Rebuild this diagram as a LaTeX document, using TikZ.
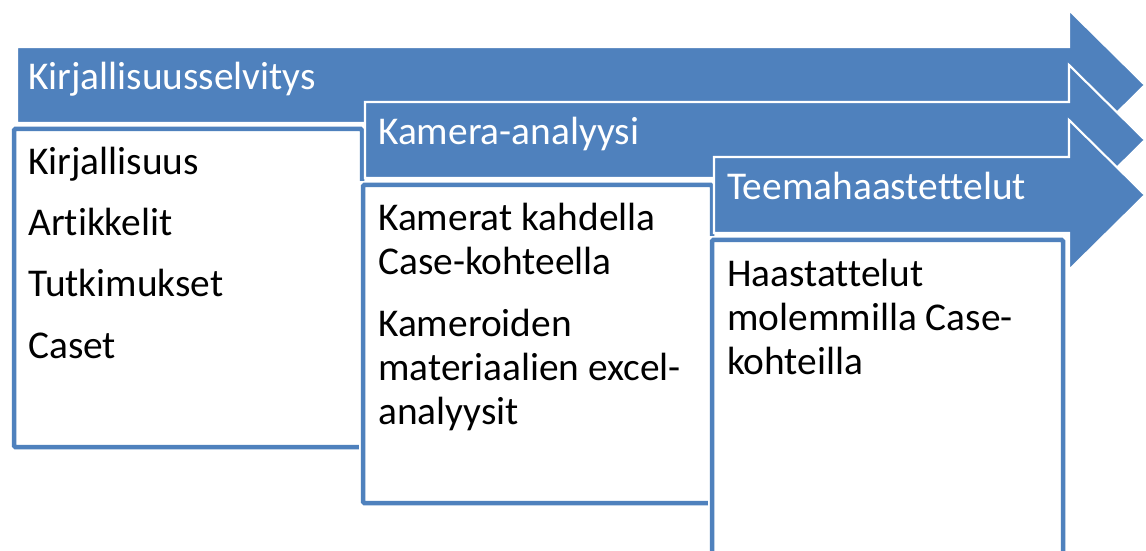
\documentclass[tikz,border=0pt]{standalone}
\usepackage{fontspec}
\setmainfont{Carlito}[Ligatures={NoCommon}]
\definecolor{accblue}{HTML}{4F81BD}
\begin{document}
\begin{tikzpicture}[x=0.025cm,y=-0.025cm,
  arrowshape/.style={fill=accblue,draw=white,line width=1.5pt,line join=miter},
  boxhalo/.style={draw=white,line width=5.5pt},
  boxshape/.style={fill=white,draw=accblue,line width=3.2pt,rounded corners=1pt},
  headtext/.style={anchor=base west,inner sep=0pt,text=white,font=\fontsize{28}{31}\selectfont},
  bodytext/.style={anchor=base west,inner sep=0pt,text=black,font=\fontsize{28}{31}\selectfont}]
\useasboundingbox (0,0) rectangle (1146,551);
\clip (0,0) rectangle (1146,551);
% arrow 1 and box 1
\draw[arrowshape] (17,47) -- (1069,47) -- (1069,10) -- (1145,85) -- (1069,160) -- (1069,123) -- (17,123) -- cycle;
\draw[boxhalo] (14,129) rectangle (362,447);
\draw[boxshape] (14,129) rectangle (362,447);
\node[headtext] (h1) at (28,90) {Kirjallisuusselvitys};
\node[bodytext] (a1) at (28,175) {Kirjallisuus};
\node[bodytext] (a2) at (28,236) {Artikkelit};
\node[bodytext] (a3) at (28,297) {Tutkimukset};
\node[bodytext] (a4) at (28,358) {Caset};
% arrow 2 and box 2
\draw[arrowshape] (365,102) -- (1069,102) -- (1069,65) -- (1145,140) -- (1069,215) -- (1069,178) -- (365,178) -- cycle;
\draw[boxhalo] (363,185) rectangle (712,503);
\draw[boxshape] (363,185) rectangle (712,503);
\node[headtext] (h2) at (378,145) {Kamera-analyysi};
\node[bodytext] (b1) at (378,231) {Kamerat kahdella};
\node[bodytext] (b2) at (378,275) {Case-kohteella};
\node[bodytext] (b3) at (378,336) {Kameroiden};
\node[bodytext] (b4) at (378,380) {materiaalien excel-};
\node[bodytext] (b5) at (378,424) {analyysit};
% arrow 3 and box 3
\draw[arrowshape] (714,157) -- (1069,157) -- (1069,120) -- (1145,195) -- (1069,270) -- (1069,233) -- (714,233) -- cycle;
\draw[boxhalo] (712,240) rectangle (1063,620);
\draw[boxshape] (712,240) rectangle (1063,620);
\node[headtext] (h3) at (727,200) {Teemahaastettelut};
\node[bodytext] (c1) at (727,286) {Haastattelut};
\node[bodytext] (c2) at (727,330) {molemmilla Case-};
\node[bodytext] (c3) at (727,374) {kohteilla};
\end{tikzpicture}
\end{document}
